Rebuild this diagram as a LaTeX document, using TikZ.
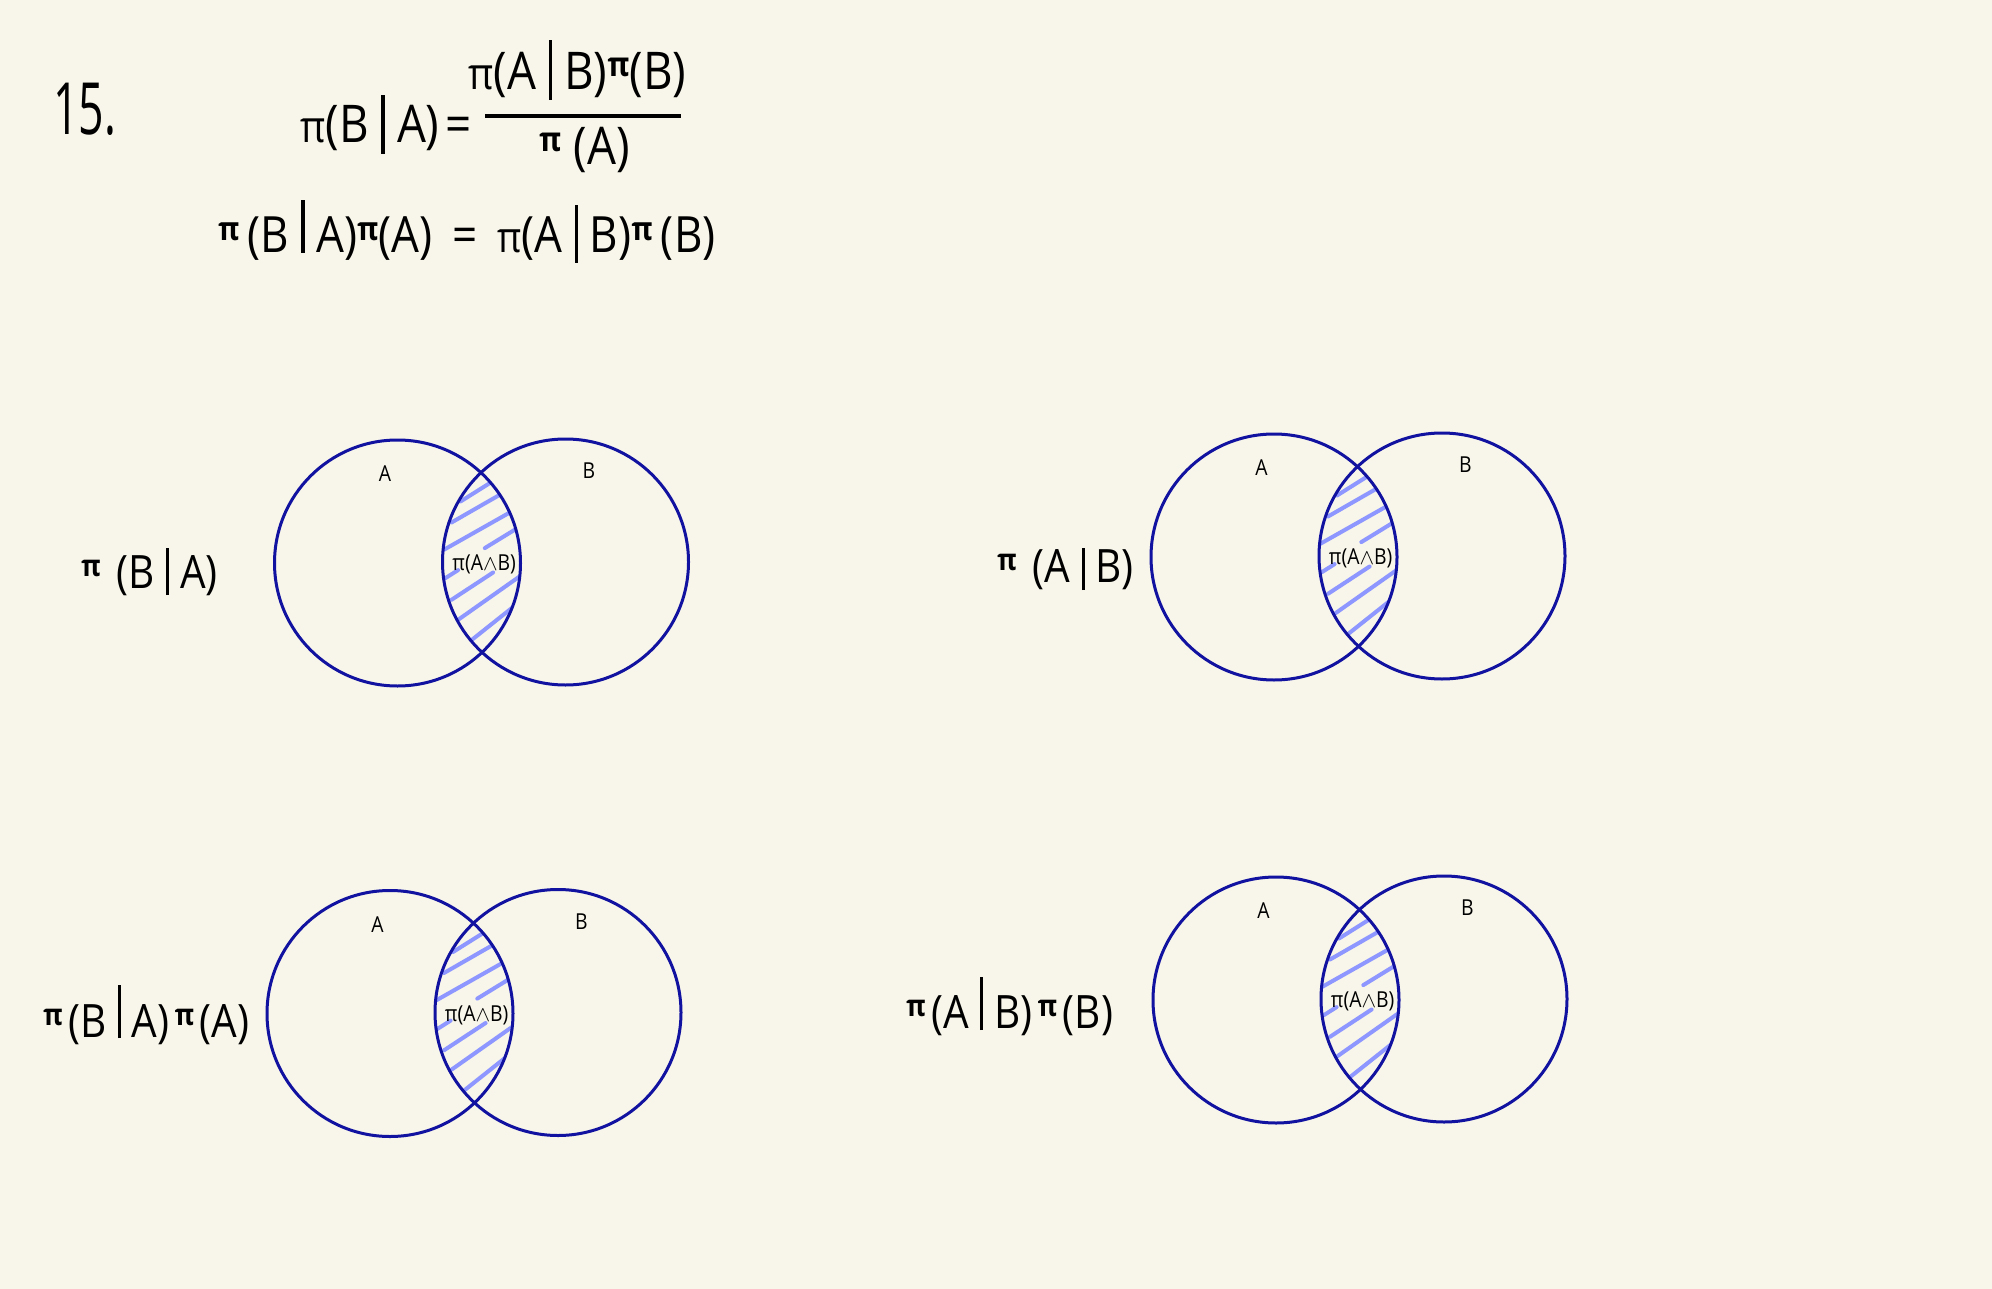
\documentclass[tikz,border=0pt]{standalone}
\usepackage{fontspec}
\usepackage{graphicx}
\setmainfont{Open Sans}[FakeStretch=0.88]
\newfontfamily\narrowhand{Open Sans}[FakeStretch=0.62]
\definecolor{bgc}{HTML}{F8F6EA}
\definecolor{navy}{HTML}{1212A0}
\definecolor{hatchc}{HTML}{8E97FF}
\newcommand{\ppi}[1][0.25em]{\raisebox{#1}{\bfseries\scalebox{0.65}{π}}}
\newcommand{\bigpi}{\scalebox{0.85}{π}}
\newcommand{\vb}[2]{\hspace{0.24em}\rule[-#1]{1.6pt}{#2}\hspace{0.24em}}
\newcommand{\gp}{\hspace{0.12em}}
\tikzset{
  eqtxt/.style={font=\fontsize{26}{30}\selectfont, anchor=base west, inner sep=0pt},
  lbltxt/.style={font=\fontsize{23}{27}\selectfont, anchor=base west, inner sep=0pt},
  smalltxt/.style={font=\fontsize{11}{13}\selectfont, inner sep=0pt},
  vennline/.style={draw=navy, line width=1.5pt},
  hatchline/.style={draw=hatchc, line width=2pt, line cap=round},
  venn/.pic={
    \begin{scope}
      \clip (0,0) circle[radius=123];
      \clip (168,-1) circle[radius=123];
      \draw[hatchline] (63,-61.5) -- (92.3,-79.9);
      \draw[hatchline] (54,-40.5) -- (102.3,-68.2);
      \draw[hatchline] (46.3,-13.2) -- (112.3,-50.5);
      \draw[hatchline] (87.3,-14.9) -- (118.3,-33.9);
      \draw[hatchline] (47.3,15.5) -- (60.6,7.1);
      \draw[hatchline] (54,36.8) -- (95.6,9.5);
      \draw[hatchline] (61.6,56.1) -- (121.6,13.8);
      \draw[hatchline] (74,77.1) -- (115,44.5);
    \end{scope}
    \draw[vennline] (0,0) circle[radius=123];
    \draw[vennline] (168,-1) circle[radius=123];
    \node[smalltxt] (-ab) at (86.7,1.7) {π(A$\wedge$B)};
    \node[smalltxt] (-a) at (-12.5,-89) {A};
    \node[smalltxt] (-b) at (191.5,-92) {B};
  }
}
\begin{document}
\begin{tikzpicture}[x=0.5pt,y=-0.5pt]
\fill[bgc] (0,0) rectangle (1992,1289);
\useasboundingbox (0,0) rectangle (1992,1289);

\node[anchor=base west, inner sep=0pt, font=\narrowhand\fontsize{36}{40}\selectfont] (t15) at (53,135) {15.};

\node[eqtxt] (e1l) at (300,143) {\bigpi(B\vb{5.5pt}{29.5pt}A)\hspace{0.12em}=};
\node[eqtxt] (e1n) at (468,90) {\bigpi(A\vb{5pt}{30pt}B)\ppi(B)};
\coordinate (fb1) at (485,116);
\coordinate (fb2) at (681,116);
\draw[line width=1.6pt] (fb1) -- (fb2);
\node[eqtxt] (e1d) at (539,165) {\ppi\gp\gp(A)};

\node[eqtxt, font=\fontsize{25}{29}\selectfont] (e2) at (218,253)
  {\ppi\,(B\vb{0pt}{26.5pt}A)\ppi(A)\hspace{0.4em}=\hspace{0.4em}\bigpi(A\vb{5pt}{29pt}B)\ppi\,(B)};

\node[lbltxt] (l1) at (81,588) {\ppi\ \gp(B\vb{3.5pt}{23.5pt}A)};
\node[lbltxt] (l2) at (997,582) {\ppi\ \gp(A\vb{4pt}{21pt}B)};
\node[lbltxt] (l3) at (43,1037) {\ppi\gp(B\vb{0.5pt}{26.5pt}A)\gp\ppi\gp(A)};
\node[lbltxt] (l4) at (906,1028) {\ppi\gp(A\vb{1pt}{26.5pt}B)\gp\ppi\gp(B)};

\pic (v1) at (397.5,563) {venn};
\pic (v2) at (1274,557) {venn};
\pic (v3) at (390,1013.5) {venn};
\pic (v4) at (1276,1000) {venn};
\end{tikzpicture}
\end{document}
